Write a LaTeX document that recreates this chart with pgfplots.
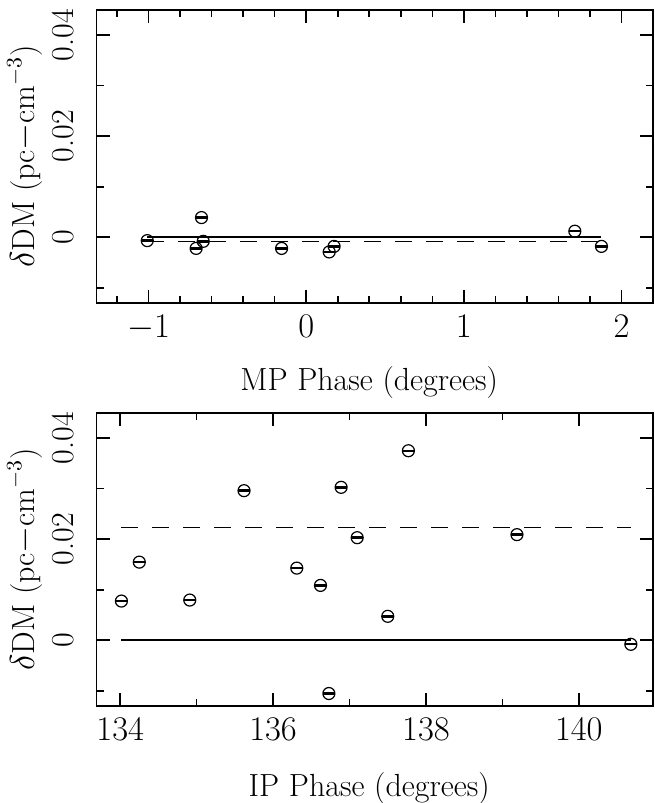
\documentclass[border=0pt]{standalone}
\usepackage{pgfplots}
\usepackage{pgfplotstable}
\pgfplotsset{compat=1.18}

\pgfplotstableread{
x y
-1.008 -0.00066
-0.698 -0.0022
-0.664 0.0039
-0.653 -0.0008
-0.156 -0.0022
0.146 -0.0029
0.177 -0.0018
1.704 0.0012
1.873 -0.0018
}\mpdata

\pgfplotstableread{
x y
134.016 0.00776
134.25 0.01546
134.91 0.00796
135.62 0.0296
136.31 0.01428
136.62 0.01086
136.73 -0.01053
136.89 0.03026
137.10 0.0203
137.50 0.00474
137.77 0.0375
139.19 0.0209
140.68 -0.00079
}\ipdata

\pgfplotsset{
  dmstyle/.style={
    scale only axis,
    width=278.25pt, height=146.6pt,
    ymin=-0.013, ymax=0.045,
    ytick={0,0.02,0.04}, yticklabels={0,0.02,0.04},
    minor ytick={-0.01,0.01,0.03},
    scaled ticks=false,
    tick align=inside,
    major tick length=6.5pt, minor tick length=3.5pt,
    axis line style={line width=0.8pt},
    every tick/.style={black, line width=0.8pt},
    yticklabel style={rotate=90, anchor=base},
    yticklabel shift=11.5pt,
    xticklabel style={anchor=base},
    xticklabel shift=17pt,
    ylabel={$\delta$DM (pc$-$cm$^{-3}$)},
    every axis y label/.style={at={(axis description cs:-0.129,0.5)}, rotate=90, anchor=center, inner sep=1pt},
  },
  circ/.style={only marks, mark=o, mark size=3pt, mark options={line width=0.6pt, black}},
  bar/.style={only marks, mark=-, mark size=3pt, mark options={line width=1.2pt, black}},
}

\begin{document}
\begin{tikzpicture}[font=\fontsize{16}{19}\selectfont]
\begin{axis}[dmstyle,
  at={(48.25pt,-151.5pt)}, anchor=south west,
  xmin=-1.33, xmax=2.2,
  xtick={-1,0,1,2},
  minor xtick={-1.2,-0.8,-0.6,-0.4,-0.2,0.2,0.4,0.6,0.8,1.2,1.4,1.6,1.8},
  xlabel={MP Phase (degrees)},
  every axis x label/.style={at={(axis description cs:0.49,-0.27)}, anchor=center},
]
\addplot[black, line width=0.8pt] coordinates {(-1.008,0) (1.873,0)};
\addplot[black, line width=0.8pt, dash pattern=on 8.5pt off 7pt] coordinates {(-1.008,-0.0008) (1.873,-0.0008)};
\addplot[circ] table[x=x,y=y] {\mpdata};
\addplot[bar] table[x=x,y=y] {\mpdata};
\end{axis}

\begin{axis}[dmstyle,
  at={(48.25pt,-353pt)}, anchor=south west,
  xmin=133.69, xmax=140.97,
  xtick={134,136,138,140},
  minor xtick={135,137,139},
  xlabel={IP Phase (degrees)},
  every axis x label/.style={at={(axis description cs:0.49,-0.28)}, anchor=center},
]
\addplot[black, line width=0.8pt] coordinates {(134.016,0) (140.68,0)};
\addplot[black, line width=0.8pt, dash pattern=on 8.5pt off 7pt] coordinates {(134.016,0.0223) (140.68,0.0223)};
\addplot[circ] table[x=x,y=y] {\ipdata};
\addplot[bar] table[x=x,y=y] {\ipdata};
\end{axis}
\pgfresetboundingbox
\path[use as bounding box] (0,0) rectangle (327pt,-401.5pt);
\end{tikzpicture}
\end{document}
